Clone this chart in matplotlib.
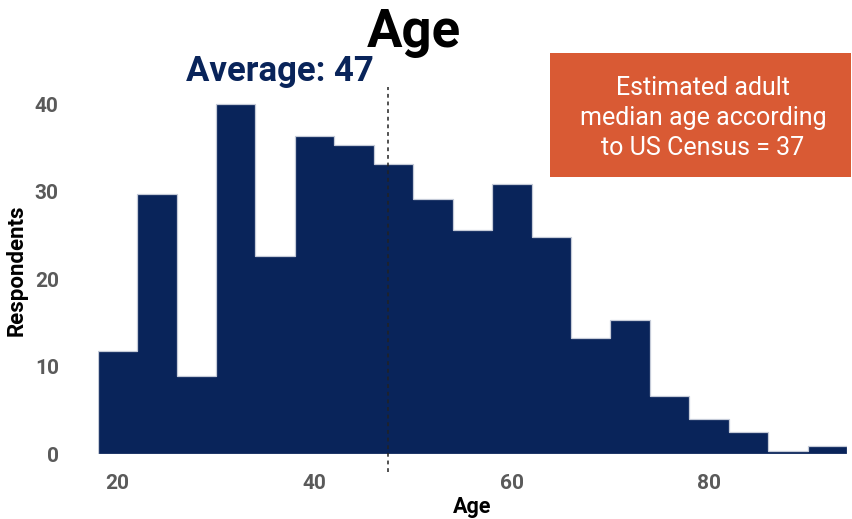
import matplotlib
matplotlib.use("Agg")
import matplotlib.pyplot as plt
from matplotlib.patches import Rectangle

# Age histogram: left edges of 4-year bins and (weighted) respondent counts
bin_starts = [18, 22, 26, 30, 34, 38, 42, 46, 50, 54, 58, 62, 66, 70, 74, 78, 82, 86, 90]
respondents = [11.8, 29.8, 9.0, 40.0, 22.7, 36.4, 35.4, 33.2, 29.2, 25.7,
               30.9, 24.9, 13.3, 15.4, 6.7, 4.1, 2.6, 0.4, 1.0]
bin_width = 4
mean_age = 47.4
x_ticks = [20, 40, 60, 80]
y_ticks = [0, 10, 20, 30, 40]

navy = "#09245a"
orange = "#d95a34"
grey = "#5a5a5a"

plt.rcParams["font.family"] = ["Roboto", "DejaVu Sans"]

fig = plt.figure(figsize=(8.52, 5.19), dpi=100)
ax = fig.add_axes([0.1146, 0.1243, 0.8796, 0.7081])

edges = bin_starts + [bin_starts[-1] + bin_width]
ax.hist(bin_starts, bins=edges, weights=respondents, histtype="stepfilled",
        facecolor=navy, edgecolor="#c5cbd8", linewidth=0.9)

ax.set_xlim(18, 94)
ax.set_ylim(0, 42)
ax.set_xticks(x_ticks)
ax.set_yticks(y_ticks)
for s in ax.spines.values():
    s.set_visible(False)
ax.tick_params(length=0, labelsize=15, labelcolor=grey)
ax.tick_params(axis="y", pad=28)
ax.tick_params(axis="x", pad=14)
for lab in ax.get_xticklabels() + ax.get_yticklabels():
    lab.set_fontweight("bold")

ax.set_xlabel("Age", fontsize=15.5, fontweight="bold", labelpad=2)
ax.set_ylabel("Respondents", fontsize=16, fontweight="bold")
ax.yaxis.set_label_coords(-0.094, 0.5)

# mean marker
ax.plot([mean_age, mean_age], [-2, 42], ls=(0, (2.5, 2.5)), color="#222222",
        lw=1.1, clip_on=False, zorder=3)
ax.text(36.5, 43.8, "Average: 47", color=navy, fontsize=25, fontweight="bold",
        ha="center", va="center", clip_on=False)

fig.text(0.486, 0.937, "Age", fontsize=38, fontweight="bold",
         ha="center", va="center", color="black")

# census note box
fig.patches.append(Rectangle((0.6455, 0.659), 0.3533, 0.239,
                             transform=fig.transFigure, facecolor=orange,
                             edgecolor="none"))
fig.text(0.825, 0.7726,
         "Estimated adult\nmedian age according\nto US Census = 37",
         fontsize=18, fontweight="normal", color="white", ha="center",
         va="center", linespacing=1.3)

fig.savefig("out.png", dpi=100)
